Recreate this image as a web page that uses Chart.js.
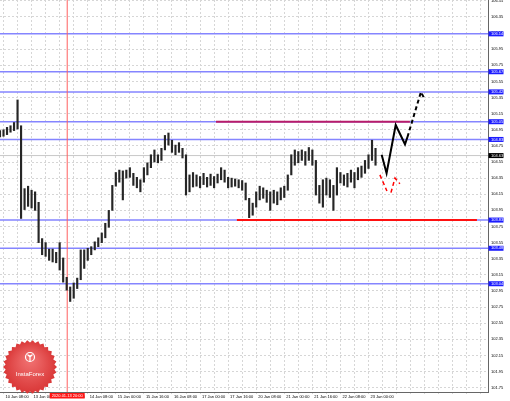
<!DOCTYPE html>
<html>
<head>
<meta charset="utf-8">
<script src="https://cdn.jsdelivr.net/npm/chart.js@4.4.1/dist/chart.umd.min.js"></script>
<style>
  html, body { margin: 0; padding: 0; background: #fff; }
  #wrap { width: 510px; height: 401px; }
</style>
</head>
<body>
<div id="wrap"><canvas id="chart" width="510" height="401"></canvas></div>
<script>
// x values are H1 bar numbers, 0 = 10 Jan 08:00; the bars below are read every 2 hours
var firstBar = -2
var barHigh = [104.94,104.95,104.98,105.00,105.04,105.32,105.00,104.22,104.25,104.20,
	104.18,104.05,103.60,103.55,103.47,103.47,103.43,103.55,103.36,103.12,
	103.00,103.05,103.11,103.46,103.46,103.48,103.50,103.56,103.61,103.67,
	103.79,103.95,104.26,104.42,104.45,104.44,104.45,104.48,104.41,104.36,
	104.33,104.48,104.54,104.64,104.70,104.64,104.72,104.88,104.91,104.82,
	104.76,104.79,104.72,104.64,104.39,104.42,104.39,104.37,104.41,104.36,
	104.40,104.37,104.40,104.48,104.45,104.36,104.35,104.34,104.33,104.32,
	104.29,104.10,104.04,104.18,104.25,104.23,104.20,104.18,104.20,104.18,
	104.23,104.25,104.39,104.64,104.70,104.68,104.70,104.68,104.73,104.70,
	104.57,104.26,104.33,104.35,104.33,104.26,104.48,104.42,104.39,104.41,
	104.45,104.42,104.48,104.50,104.57,104.64,104.82,104.72]
var barLow = [104.86,104.87,104.89,104.92,104.94,104.96,103.85,103.96,104.00,103.98,
	103.95,103.55,103.40,103.38,103.33,103.31,103.30,103.21,103.06,102.96,
	102.82,102.86,102.98,103.09,103.23,103.33,103.40,103.46,103.50,103.55,
	103.61,103.74,103.95,104.25,104.30,104.08,104.35,104.36,104.26,104.23,
	104.18,104.30,104.39,104.48,104.55,104.54,104.57,104.70,104.76,104.67,
	104.64,104.67,104.60,104.14,104.18,104.24,104.25,104.23,104.27,104.24,
	104.26,104.23,104.29,104.33,104.30,104.23,104.24,104.25,104.23,104.20,
	104.08,103.86,103.89,103.99,104.08,104.10,104.05,103.95,104.04,104.02,
	104.08,104.11,104.20,104.39,104.51,104.54,104.57,104.51,104.57,104.51,
	104.14,104.04,103.99,104.14,104.11,103.95,104.14,104.29,104.26,104.24,
	104.30,104.23,104.33,104.36,104.41,104.47,104.57,104.51]

var timeTicks = [0,16,32,48,64,80,96,112,128,144,160,176,192,208]
var timeLabels = ['10 Jan 08:00','13 Jan 00:00','13 Jan 16:00','14 Jan 08:00','15 Jan 00:00',
	'15 Jan 16:00','16 Jan 08:00','17 Jan 00:00','17 Jan 16:00','20 Jan 08:00',
	'21 Jan 00:00','21 Jan 16:00','22 Jan 08:00','23 Jan 00:00']
var priceTicks = [101.75,101.95,102.15,102.35,102.55,102.75,102.95,103.15,103.35,103.55,
	103.75,103.95,104.15,104.35,104.55,104.75,104.95,105.15,105.35,105.55,
	105.75,105.95,106.15,106.35,106.55]

var levels = [106.14,105.67,105.42,105.05,104.83,103.83,103.48,103.04]
var bidPrice = 104.63
var markBar = 36.3
var markLabel = '2020.01.13 20:00'

var resistX = [121.1, 231.6], resistY = [105.05, 105.05]
var supportX = [133, 269.8], supportY = [103.83, 103.83]
var upSolidX = [215.5, 218.3, 223.5, 228.8, 230.2]
var upSolidY = [104.64, 104.41, 105.01, 104.77, 104.86]
var upDashX = [230.2, 237.9, 240.2]
var upDashY = [104.86, 105.42, 105.32]
var downAX = [214.5, 218.5], downAY = [104.39, 104.19]
var downBX = [220.8, 223.1, 225.9], downBY = [104.17, 104.35, 104.28]

var xMin = -2, xMax = 276.1
var yMin = 101.697, yMax = 106.56

function pts(xs, ys) {
	return xs.map((x, i) => ({x: x, y: ys[i]}))
}

var bars = barHigh.map((h, i) => ({x: firstBar + i*2, y: [barLow[i], h]}))

var datasets = [{
	type: 'bar',
	data: bars,
	backgroundColor: '#262626',
	barThickness: 1.5,
	borderWidth: 0,
	order: 1
}]

levels.forEach(lv => {
	datasets.push({
		type: 'line',
		data: pts([xMin, xMax], [lv, lv]),
		borderColor: '#8585ff',
		borderWidth: 1.5,
		pointRadius: 0,
		order: 3
	})
})

function line(xs, ys, color, width, dash, order) {
	return {
		type: 'line',
		data: pts(xs, ys),
		borderColor: color,
		borderWidth: width,
		borderDash: dash || [],
		pointRadius: 0,
		tension: 0,
		order: order
	}
}

datasets.push(line([xMin, xMax], [bidPrice, bidPrice], '#c8c8c8', 1, null, 4))
datasets.push(line([markBar, markBar], [yMin, yMax], '#ff6060', 1, null, 2))
datasets.push(line(resistX, resistY, '#b81c6a', 2, null, 2))
datasets.push(line(supportX, supportY, '#ff1010', 2, null, 2))
datasets.push(line(upSolidX, upSolidY, '#000', 2, null, 0))
datasets.push(line(upDashX, upDashY, '#000', 2, [4, 3], 0))
datasets.push(line(downAX, downAY, '#ff0000', 1.5, [4, 3], 0))
datasets.push(line(downBX, downBY, '#ff0000', 1.5, [4, 3], 0))

const tickFont = {family: 'Liberation Sans', size: 4}

// instaforex badge, bottom left
const badge = {
	id: 'badge',
	beforeDatasetsDraw(chart) {
		const ctx = chart.ctx
		const cx = 30, cy = 367, rOut = 27, rIn = 24.5, teeth = 30
		ctx.save()
		ctx.beginPath()
		for (let i = 0; i < teeth*2; i++) {
			let a = i*Math.PI/teeth
			let r = i % 2 ? rIn : rOut
			ctx.lineTo(cx + r*Math.cos(a), cy + r*Math.sin(a))
		}
		ctx.closePath()
		let g = ctx.createRadialGradient(cx, cy - 8, 2, cx, cy, rOut)
		g.addColorStop(0, '#f07070')
		g.addColorStop(1, '#d93636')
		ctx.fillStyle = g
		ctx.fill()

		ctx.strokeStyle = '#fff'
		ctx.fillStyle = '#fff'
		ctx.lineWidth = 1.2
		ctx.beginPath()
		ctx.arc(cx, cy - 10, 4.5, 0, Math.PI*2)
		ctx.stroke()
		ctx.beginPath()
		ctx.moveTo(cx, cy - 12); ctx.lineTo(cx, cy - 5.5)
		ctx.moveTo(cx - 2.5, cy - 12.5); ctx.lineTo(cx, cy - 10); ctx.lineTo(cx + 2.5, cy - 12.5)
		ctx.stroke()

		ctx.font = '6px "Liberation Sans"'
		ctx.textAlign = 'center'
		ctx.textBaseline = 'middle'
		ctx.fillText('InstaForex', cx, cy + 7)
		ctx.restore()
	}
}

// price tags on the right axis and the time tag at the bottom
const tags = {
	id: 'tags',
	afterDraw(chart) {
		const ctx = chart.ctx
		const ys = chart.scales.y, xs = chart.scales.x
		const area = chart.chartArea
		ctx.save()
		ctx.font = '4px "Liberation Sans"'
		ctx.textBaseline = 'middle'

		function tag(v, bg) {
			let y = ys.getPixelForValue(v)
			ctx.fillStyle = bg
			ctx.fillRect(area.right + 0.5, y - 2.5, 15, 5)
			ctx.fillStyle = '#fff'
			ctx.textAlign = 'left'
			ctx.fillText(v.toFixed(2), area.right + 3, y)
		}
		levels.forEach(v => tag(v, '#1c1cff'))
		tag(bidPrice, '#000')

		let px = xs.getPixelForValue(markBar)
		ctx.fillStyle = '#ff1414'
		ctx.fillRect(px - 17.5, area.bottom + 1, 35, 5.5)
		ctx.fillStyle = '#fff'
		ctx.textAlign = 'center'
		ctx.fillText(markLabel, px, area.bottom + 3.8)
		ctx.restore()
	}
}

new Chart(document.getElementById('chart'), {
	type: 'bar',
	data: {datasets: datasets},
	options: {
		responsive: false,
		animation: false,
		layout: {padding: 0},
		plugins: {legend: {display: false}, tooltip: {enabled: false}},
		scales: {
			x: {
				type: 'linear',
				min: xMin,
				max: xMax,
				offset: false,
				grid: {color: '#d6d6d6', tickLength: 2, offset: false},
				border: {display: true, color: '#666', dash: [2, 2]},
				ticks: {
					font: tickFont,
					color: '#000',
					padding: 0,
					align: 'start',
					labelOffset: 2,
					maxRotation: 0,
					autoSkip: false,
					callback: function(v) {
						let k = timeTicks.indexOf(v)
						return k < 0 ? '' : timeLabels[k]
					}
				},
				afterBuildTicks: function(scale) {
					let t = []
					for (let v = 0; v <= 272; v += 8) t.push({value: v})
					scale.ticks = t
				},
				afterFit: function(scale) {
					scale.height = 9
					scale.paddingLeft = 0
					scale.paddingRight = 0
				}
			},
			y: {
				position: 'right',
				min: yMin,
				max: yMax,
				grid: {color: '#d6d6d6', tickLength: 1},
				border: {display: true, color: '#666', dash: [2, 2]},
				ticks: {
					font: tickFont,
					color: '#000',
					padding: 2,
					callback: v => v.toFixed(2)
				},
				afterBuildTicks: function(scale) {
					scale.ticks = priceTicks.map(v => ({value: v}))
				},
				afterFit: function(scale) {
					scale.width = 22
					scale.paddingTop = 0
					scale.paddingBottom = 0
				}
			}
		}
	},
	plugins: [badge, tags]
})
</script>
</body>
</html>
